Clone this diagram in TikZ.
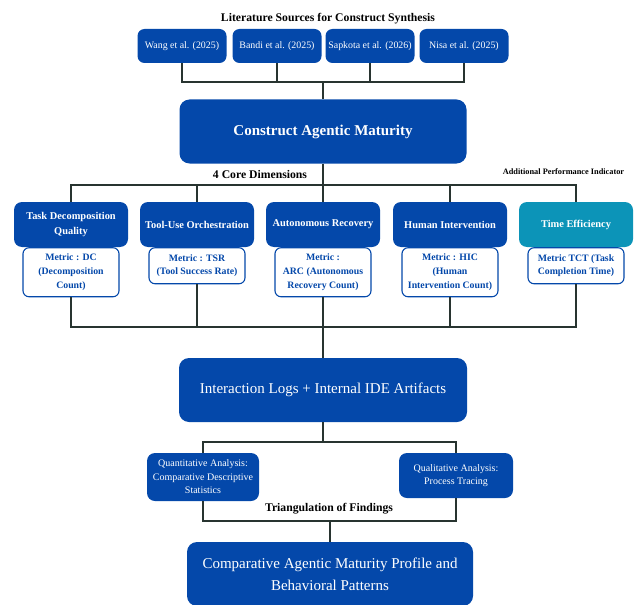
\documentclass[tikz,border=0pt]{standalone}
\usepackage{fontspec}
\setmainfont{Liberation Serif}
\usetikzlibrary{positioning}

\definecolor{mblue}{RGB}{4,72,170}
\definecolor{mteal}{RGB}{12,148,184}
\definecolor{linec}{RGB}{40,52,48}

\tikzset{
  srcbox/.style={fill=mblue, text=white, rounded corners=7pt, inner sep=0pt,
    minimum width=89pt, minimum height=34pt, font=\fontsize{9.9}{11}\selectfont},
  bigbox/.style={fill=mblue, text=white, rounded corners=10pt, inner sep=0pt,
    minimum width=287pt, minimum height=64pt, align=center},
  corebox/.style={fill=mblue, text=white, rounded corners=8pt, inner sep=0pt,
    minimum width=114pt, minimum height=45pt, align=center,
    font=\fontsize{10.4}{14.5}\selectfont\bfseries},
  metricbox/.style={draw=mblue, line width=1.1pt, fill=white, text=mblue,
    rounded corners=6pt, inner sep=0pt, minimum width=96pt, align=center,
    font=\fontsize{9.8}{13.7}\selectfont\bfseries},
  anabox/.style={fill=mblue, text=white, rounded corners=8pt, inner sep=0pt,
    minimum height=46pt, align=center, font=\fontsize{10}{13.5}\selectfont},
  headlabel/.style={font=\fontsize{11.7}{13}\selectfont\bfseries, inner sep=0pt},
  link/.style={draw=linec, line width=1.8pt}
}

\begin{document}
\begin{tikzpicture}[x=1pt, y=-1pt]
\useasboundingbox (0,0) rectangle (636,604);

%sources
\node[headlabel] (srctitle) at (328,18.5) {Literature Sources for Construct Synthesis};
\node[srcbox] (wang) at (182,46) {Wang et al. (2025)};
\node[srcbox] (bandi) at (277,46) {Bandi et al. (2025)};
\node[srcbox] (sapkota) at (370,46) {Sapkota et al. (2026)};
\node[srcbox] (nisa) at (464,46) {Nisa et al. (2025)};
\coordinate (srcbus) at (323,82);

\node[bigbox, font=\fontsize{15}{17}\selectfont\bfseries] (construct) at (323,131.5)
  {Construct Agentic Maturity};

\draw[link] (wang.south) |- (srcbus);
\draw[link] (bandi.south) |- (srcbus);
\draw[link] (sapkota.south) |- (srcbus);
\draw[link] (nisa.south) |- (srcbus);
\draw[link] (srcbus) -- (construct.north);

%dimensions
\node[headlabel] (corelabel) at (260,174) {4 Core Dimensions};
\node[headlabel, font=\fontsize{8.3}{9}\selectfont\bfseries] (addlabel) at (563.5,172) {Additional Performance Indicator};
\coordinate (dimbus) at (323,185);

\node[corebox] (task) at (71,224.5) {Task Decomposition\\Quality};
\node[corebox] (tool) at (197,224.5) {Tool-Use Orchestration};
\node[corebox] (recov) at (323,224.5) {Autonomous Recovery};
\node[corebox] (human) at (450,224.5) {Human Intervention};
\node[corebox, fill=mteal] (time) at (576,224.5) {Time Efficiency};

\node[metricbox, minimum height=49pt, below=0pt of task] (taskm) {Metric : DC\\(Decomposition\\Count)};
\node[metricbox, minimum height=36pt, below=0pt of tool] (toolm) {Metric : TSR\\(Tool Success Rate)};
\node[metricbox, minimum height=49pt, below=0pt of recov] (recovm) {Metric :\\ARC (Autonomous\\Recovery Count)};
\node[metricbox, minimum height=49pt, below=0pt of human] (humanm) {Metric : HIC\\(Human\\Intervention Count)};
\node[metricbox, minimum height=36pt, below=0pt of time] (timem) {Metric TCT (Task\\Completion Time)};

\draw[link] (construct.south) -- (dimbus);
\draw[link] (task.north) |- (dimbus);
\draw[link] (tool.north) |- (dimbus);
\draw[link] (recov.north) -- (dimbus);
\draw[link] (human.north) |- (dimbus);
\draw[link] (time.north) |- (dimbus);

%logs
\coordinate (logbus) at (323,327);
\node[bigbox, minimum width=288pt, font=\fontsize{15}{17}\selectfont] (logs) at (323,390)
  {Interaction Logs + Internal IDE Artifacts};

\draw[link] (taskm.south) |- (logbus);
\draw[link] (toolm.south) |- (logbus);
\draw[link] (recovm.south) -- (logbus);
\draw[link] (humanm.south) |- (logbus);
\draw[link] (timem.south) |- (logbus);
\draw[link] (logbus) -- (logs.north);

%analysis
\coordinate (anatop) at (323,442);
\coordinate (anabot) at (330,521);
\node[anabox, minimum width=112pt, minimum height=48pt] (quant) at (203,477)
  {Quantitative Analysis:\\Comparative Descriptive\\Statistics};
\node[anabox, minimum width=114pt, minimum height=45pt] (qual) at (456,475.5)
  {Qualitative Analysis:\\Process Tracing};
\node[headlabel] (triang) at (329,509) {Triangulation of Findings};

\node[bigbox, minimum width=286pt, font=\fontsize{15}{22}\selectfont] (profile) at (330,574)
  {Comparative Agentic Maturity Profile and\\Behavioral Patterns};

\draw[link] (logs.south) -- (anatop);
\draw[link] (quant.north) |- (anatop);
\draw[link] (qual.north) |- (anatop);
\draw[link] (quant.south) |- (anabot);
\draw[link] (qual.south) |- (anabot);
\draw[link] (anabot) -- (profile.north);
\end{tikzpicture}
\end{document}
